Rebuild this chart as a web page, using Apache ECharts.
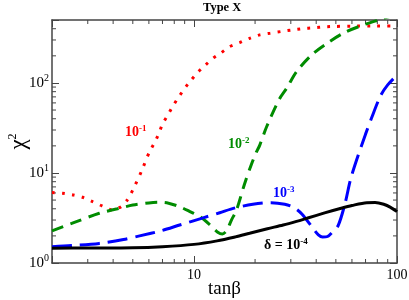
<!DOCTYPE html>
<html>
<head>
<meta charset="utf-8">
<script src="https://cdn.jsdelivr.net/npm/echarts@6/dist/echarts.min.js"></script>
<style>html,body{margin:0;padding:0;background:#fff}#c{width:409px;height:300px}</style>
</head>
<body>
<div id="c"></div>
<script>
// ---- data ----
const X_MIN = 2, X_MAX = 100, Y_MIN = 1, Y_MAX = 500;

const tanRed = [2, 2.25, 2.55, 2.83, 3.17, 3.53, 3.95, 4.38, 4.72, 5.0, 5.5, 6.04, 6.4, 6.72, 7.0, 7.44, 7.88, 8.44, 9.0, 9.7, 10.5, 11.4, 12.4, 13.6, 15, 16.8, 18.8, 21.1, 23.7, 26.8, 30.3, 34.6, 38.6, 44.2, 49.6, 60.8, 76.4, 100];
const chiRed = [6.05, 5.95, 5.7, 5.37, 4.8, 4.3, 3.88, 4.22, 5.1, 6.47, 10.3, 17.2, 21.7, 27.5, 35, 44, 55.5, 70.5, 87, 108, 133, 158, 188, 216, 253, 280, 313, 342, 357, 372, 387, 402, 409, 420, 424, 428, 430, 430];

const tanGreen = [2, 2.5, 3.42, 4.2, 5, 6, 6.7, 7.5, 8.5, 9.5, 10.7, 12.0, 13.1, 13.8, 14.5, 15.3, 16.2, 17.8, 19.2, 20.3, 21.1, 22.8, 26.3, 28.6, 32, 38, 46, 55.6, 70, 83.5, 95];
const chiGreen = [2.27, 2.75, 3.57, 4.0, 4.4, 4.65, 4.72, 4.62, 4.22, 3.75, 3.27, 2.65, 2.2, 2.1, 2.3, 3.0, 3.87, 7.7, 12.5, 17, 20.4, 32.6, 65.7, 87, 133, 205, 283, 366, 450, 510, 560];

const tanBlue = [2, 2.5, 3.42, 4.5, 5.4, 7, 8.5, 11, 13.4, 16, 19.5, 24, 28, 31, 34, 38.7, 41, 43, 45.5, 48, 51.3, 55.5, 58.9, 63.3, 70, 75, 83, 90, 100];
const chiBlue = [1.52, 1.56, 1.65, 1.82, 2.0, 2.3, 2.64, 3.15, 3.62, 4.1, 4.49, 4.68, 4.5, 4.15, 3.5, 2.4, 2.05, 1.94, 1.97, 2.2, 2.6, 4.6, 8.3, 14, 27, 41, 72, 95, 122];

const tanBlack = [2, 3, 5, 7, 10, 13, 16, 18.8, 23, 27.5, 32, 36, 44, 52, 60, 71, 78, 86, 93, 100];
const chiBlack = [1.46, 1.47, 1.48, 1.52, 1.61, 1.76, 1.95, 2.14, 2.4, 2.64, 2.9, 3.14, 3.6, 4.0, 4.35, 4.68, 4.7, 4.49, 4.15, 3.72];

const xMinorTicks = [3, 4, 5, 6, 7, 8, 9, 20, 30, 40, 50, 60, 70, 80, 90];
const yMinorTicks = [2, 3, 4, 5, 6, 7, 8, 9, 20, 30, 40, 50, 60, 70, 80, 90, 200, 300, 400];

// ---- chart ----
const zip = (a, b) => a.map((v, i) => [v, b[i]]);
const SERIF = '"Liberation Serif", "DejaVu Serif", serif';
const AX = '#444';

const isPow10 = v => Math.abs(Math.log10(v) - Math.round(Math.log10(v))) < 1e-6;

const tickData = xMinorTicks.map(v => [v, 2, 0]).concat(yMinorTicks.map(v => [3, v, 1]));

const chart = echarts.init(document.getElementById('c'), null, {renderer: 'canvas'});

const common = {
  type: 'log', logBase: 10,
  splitLine: {show: false},
  axisLine: {show: true, lineStyle: {color: AX, width: 1.5}},
  axisTick: {show: true, inside: true, length: 7, lineStyle: {color: AX, width: 1}},
};

chart.setOption({
  animation: false,
  grid: {left: 52, right: 12, top: 20, bottom: 37, containLabel: false, outerBoundsMode: 'none'},
  xAxis: [
    Object.assign({}, common, {
      min: X_MIN, max: X_MAX, position: 'bottom',
      axisLabel: {
        margin: 5, color: '#000', fontFamily: SERIF, fontSize: 14,
        showMinLabel: true, showMaxLabel: true, hideOverlap: false,
        formatter: v => isPow10(v) ? String(Math.round(v)) : ''
      },
      name: 'tanβ', nameLocation: 'middle', nameGap: 26, nameMoveOverlap: false,
      nameTextStyle: {color: '#000', fontFamily: SERIF, fontSize: 19, verticalAlign: 'middle'}
    }),
    Object.assign({}, common, {
      min: X_MIN, max: X_MAX, position: 'top', axisLabel: {show: false}
    })
  ],
  yAxis: [
    Object.assign({}, common, {
      min: Y_MIN, max: Y_MAX, position: 'left',
      axisLabel: {
        margin: 3, color: '#000', fontFamily: SERIF, fontSize: 15,
        showMinLabel: true, showMaxLabel: true, hideOverlap: false,
        formatter: v => isPow10(v) ? '10{s|' + Math.round(Math.log10(v)) + '}' : '',
        rich: {s: {fontSize: 10, fontFamily: SERIF, color: '#000', verticalAlign: 'top', padding: [0, 0, 9, 0]}}
      },
      name: 'χ{s|2}', nameLocation: 'middle', nameGap: 33, nameRotate: 90, nameMoveOverlap: false,
      nameTextStyle: {color: '#000', fontFamily: SERIF, fontSize: 23, verticalAlign: 'middle',
        rich: {s: {fontSize: 12, fontFamily: SERIF, color: '#000', verticalAlign: 'top', padding: [0, 0, 12, 0]}}}
    }),
    Object.assign({}, common, {
      min: Y_MIN, max: Y_MAX, position: 'right', axisLabel: {show: false}
    })
  ],
  series: [
    {
      type: 'custom', silent: true, z: 1, clip: false,
      data: tickData,
      renderItem: (params, api) => {
        const kind = api.value(2), v = kind === 0 ? api.value(0) : api.value(1);
        const L = 4;
        if (kind === 0) {
          const b = api.coord([v, Y_MIN]), t = api.coord([v, Y_MAX]);
          return {type: 'group', children: [
            {type: 'line', shape: {x1: b[0], y1: b[1], x2: b[0], y2: b[1] - L}, style: {stroke: AX, lineWidth: 1}},
            {type: 'line', shape: {x1: t[0], y1: t[1], x2: t[0], y2: t[1] + L}, style: {stroke: AX, lineWidth: 1}}
          ]};
        }
        const l = api.coord([X_MIN, v]), r = api.coord([X_MAX, v]);
        return {type: 'group', children: [
          {type: 'line', shape: {x1: l[0], y1: l[1], x2: l[0] + L, y2: l[1]}, style: {stroke: AX, lineWidth: 1}},
          {type: 'line', shape: {x1: r[0], y1: r[1], x2: r[0] - L, y2: r[1]}, style: {stroke: AX, lineWidth: 1}}
        ]};
      }
    },
    {name: '1e-1', type: 'line', data: zip(tanRed, chiRed), showSymbol: false, smooth: 0.2, z: 2,
     lineStyle: {color: '#ff0000', width: 3, type: [2.8, 7.2]}},
    {name: '1e-2', type: 'line', data: zip(tanGreen, chiGreen), showSymbol: false, smooth: 0.3, z: 3,
     lineStyle: {color: '#008c00', width: 3, type: [12, 7.5]}},
    {name: '1e-3', type: 'line', data: zip(tanBlue, chiBlue), showSymbol: false, smooth: 0.3, z: 4,
     lineStyle: {color: '#0000ff', width: 3, type: [20, 8]}},
    {name: '1e-4', type: 'line', data: zip(tanBlack, chiBlack), showSymbol: false, smooth: 0.3, z: 5,
     lineStyle: {color: '#000000', width: 3}}
  ],
  graphic: [
    {type: 'text', left: 203, top: 1, style: {text: 'Type X', fontFamily: SERIF, fontWeight: 'bold', fontSize: 12.5, fill: '#000'}},
    {type: 'text', x: 125, y: 124, style: {text: '10{s|-1}', fill: '#ff0000', fontFamily: SERIF, fontWeight: 'bold', fontSize: 14,
      rich: {s: {fontSize: 9, fontWeight: 'bold', fontFamily: SERIF, fill: '#ff0000', verticalAlign: 'top', padding: [0, 0, 8, 0]}}}},
    {type: 'text', x: 228, y: 136, style: {text: '10{s|-2}', fill: '#008c00', fontFamily: SERIF, fontWeight: 'bold', fontSize: 14,
      rich: {s: {fontSize: 9, fontWeight: 'bold', fontFamily: SERIF, fill: '#008c00', verticalAlign: 'top', padding: [0, 0, 8, 0]}}}},
    {type: 'text', x: 273, y: 185, style: {text: '10{s|-3}', fill: '#0000ff', fontFamily: SERIF, fontWeight: 'bold', fontSize: 14,
      rich: {s: {fontSize: 9, fontWeight: 'bold', fontFamily: SERIF, fill: '#0000ff', verticalAlign: 'top', padding: [0, 0, 8, 0]}}}},
    {type: 'text', x: 264, y: 237, style: {text: 'δ = 10{s|-4}', fill: '#000', fontFamily: SERIF, fontWeight: 'bold', fontSize: 14,
      rich: {s: {fontSize: 9, fontWeight: 'bold', fontFamily: SERIF, fill: '#000', verticalAlign: 'top', padding: [0, 0, 8, 0]}}}}
  ]
});
</script>
</body>
</html>
